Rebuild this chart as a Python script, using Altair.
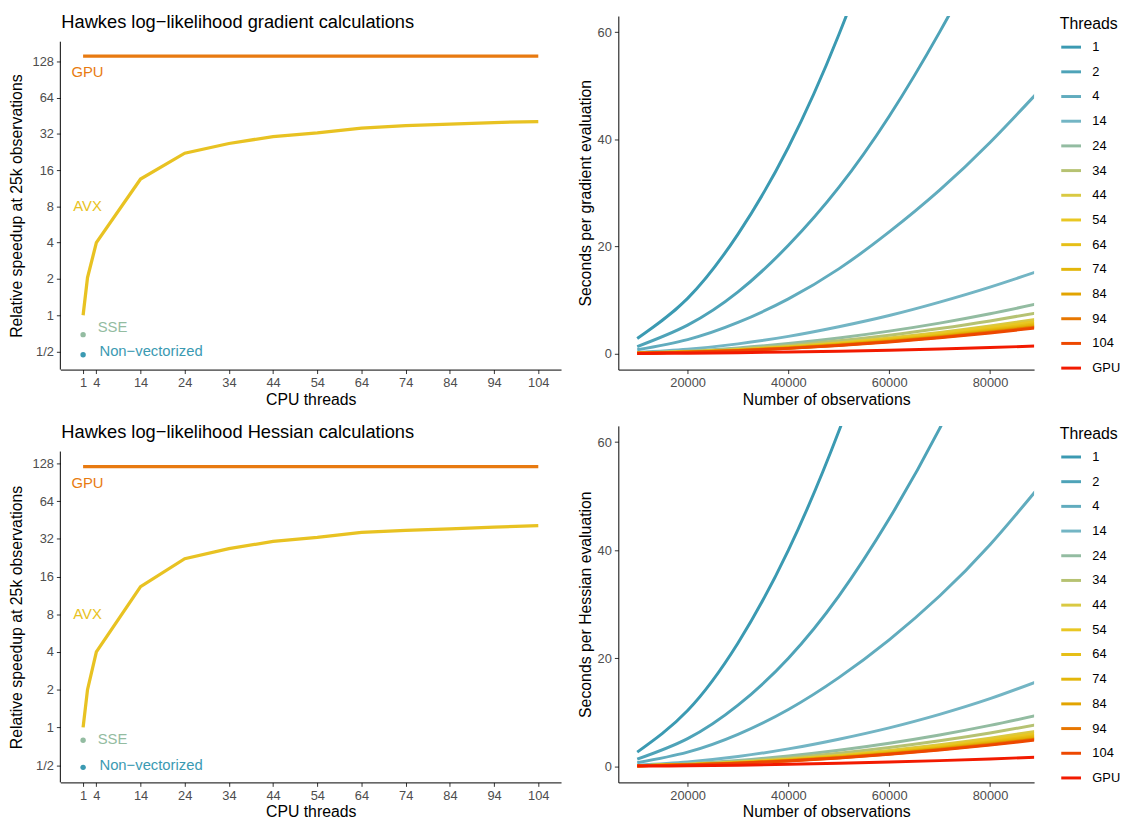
import math
import altair as alt
import pandas as pd

FONT = "Liberation Sans"

# ---------------- Left panels: relative speedup ----------------
cpu_axis_ticks = [1, 4, 14, 24, 34, 44, 54, 64, 74, 84, 94, 104]
speed_ticks = [0.5, 1, 2, 4, 8, 16, 32, 64, 128]

avx_threads = [1, 2, 4, 14, 24, 34, 44, 54, 64, 74, 84, 94, 104]
avx_grad = [1.0, 2.05, 4.0, 13.5, 22.1, 26.6, 30.4, 32.6, 35.7, 37.5, 38.5, 39.7, 40.5]
avx_hess = [1.0, 2.0, 4.0, 13.3, 22.2, 26.7, 30.5, 32.8, 36.0, 37.3, 38.4, 39.6, 40.8]

gpu_threads = [1, 104]
gpu_grad = [141, 141]
gpu_hess = [120.5, 120.5]

sse_grad, nonvec_grad = 0.69, 0.47
sse_hess, nonvec_hess = 0.79, 0.48

# label positions (speedup values)
gpu_label_grad, gpu_label_hess = 104, 89.9
avx_label_y = 8
sse_label_y, nonvec_label_y = 0.8, 0.5

panel_titles = ["Hawkes log\u2212likelihood gradient calculations",
                "Hawkes log\u2212likelihood Hessian calculations"]

C_GPU = "#E87A10"
C_AVX = "#E8C222"
C_SSE = "#93BCA1"
C_NV = "#3B9AB2"

# ---------------- Right panels: seconds per evaluation ----------------
n_obs = [10000, 20000, 30000, 40000, 50000, 60000, 70000, 80000, 90000]
thread_labels = ["1", "2", "4", "14", "24", "34", "44", "54", "64", "74", "84", "94", "104", "GPU"]
thread_colors = ["#3B9AB2", "#4EA3B8", "#61ACBE", "#73B5C4", "#93BCA1", "#B6C272", "#D9C942",
                 "#E9C723", "#E6BF17", "#E3B60A", "#E2A400", "#E77600", "#ED4800", "#F21A00"]

grad_times = {
    "1":   [2.8, 10.3, 22.3, 38.5, 59.5, 85.5, 116.5, 152.5, 193.5],
    "2":   [1.3, 5.3, 11.5, 20.2, 31.0, 44.3, 60.0, 78.0, 99.0],
    "4":   [0.7, 2.6, 5.8, 10.2, 15.8, 22.7, 30.5, 39.4, 49.3],
    "14":  [0.2, 0.8, 1.8, 3.2, 5.0, 7.1, 9.6, 12.4, 15.5],
    "24":  [0.12, 0.46, 1.04, 1.86, 2.9, 4.18, 5.68, 7.42, 9.4],
    "34":  [0.1, 0.38, 0.86, 1.52, 2.38, 3.42, 4.66, 6.08, 7.7],
    "44":  [0.08, 0.32, 0.72, 1.28, 2.0, 2.88, 3.92, 5.12, 6.48],
    "54":  [0.08, 0.3, 0.68, 1.2, 1.88, 2.7, 3.68, 4.8, 6.08],
    "64":  [0.07, 0.28, 0.63, 1.12, 1.75, 2.52, 3.43, 4.48, 5.67],
    "74":  [0.07, 0.27, 0.6, 1.07, 1.68, 2.41, 3.28, 4.29, 5.43],
    "84":  [0.06, 0.26, 0.58, 1.02, 1.6, 2.3, 3.14, 4.1, 5.18],
    "94":  [0.06, 0.25, 0.56, 0.99, 1.55, 2.23, 3.04, 3.97, 5.02],
    "104": [0.06, 0.24, 0.54, 0.96, 1.5, 2.16, 2.94, 3.84, 4.86],
    "GPU": [0.02, 0.07, 0.16, 0.28, 0.44, 0.63, 0.86, 1.12, 1.42],
}

hess_times = {
    "1":   [2.6, 10.3, 22.8, 40.0, 62.0, 88.8, 120.5, 157.0, 198.5],
    "2":   [1.3, 5.1, 11.3, 20.0, 31.5, 45.8, 62.5, 82.0, 104.0],
    "4":   [0.65, 2.6, 5.9, 10.5, 16.4, 23.4, 31.5, 41.0, 52.0],
    "14":  [0.2, 0.8, 1.8, 3.2, 5.0, 7.1, 9.6, 12.5, 15.9],
    "24":  [0.12, 0.47, 1.06, 1.89, 2.95, 4.25, 5.78, 7.55, 9.56],
    "34":  [0.1, 0.38, 0.86, 1.54, 2.4, 3.46, 4.7, 6.14, 7.78],
    "44":  [0.08, 0.32, 0.73, 1.3, 2.03, 2.92, 3.97, 5.18, 6.56],
    "54":  [0.08, 0.3, 0.68, 1.22, 1.9, 2.74, 3.72, 4.86, 6.16],
    "64":  [0.07, 0.28, 0.64, 1.14, 1.78, 2.56, 3.48, 4.54, 5.75],
    "74":  [0.07, 0.27, 0.61, 1.09, 1.7, 2.45, 3.33, 4.35, 5.51],
    "84":  [0.07, 0.26, 0.59, 1.04, 1.63, 2.34, 3.19, 4.16, 5.27],
    "94":  [0.06, 0.25, 0.57, 1.01, 1.58, 2.27, 3.09, 4.03, 5.1],
    "104": [0.06, 0.24, 0.55, 0.98, 1.53, 2.2, 2.99, 3.9, 4.94],
    "GPU": [0.02, 0.08, 0.19, 0.34, 0.53, 0.76, 1.03, 1.34, 1.7],
}

LEFT_W, RIGHT_W = 507, 421
TITLE_BAND = 26  # space for the panel title above the left plot area
X_LO, X_HI = -4.15, 109.15


def left_chart(title, avx, gpu, sse, nv, gpu_lab, ydom, h_plot):
    lo, hi = ydom
    h_full = h_plot + TITLE_BAND
    # extend the log domain upward so the title sits above the drawn axis line
    top = hi * 2 ** (TITLE_BAND / h_plot * math.log2(hi / lo))
    xs = alt.Scale(domain=[X_LO, X_HI], nice=False, zero=False)
    ys = alt.Scale(type="log", base=2, domain=[lo, top], nice=False)
    xax = alt.Axis(values=cpu_axis_ticks, title="CPU threads", titlePadding=2)
    yax = alt.Axis(values=speed_ticks, title="Relative speedup at 25k observations", domain=False,
                   labelExpr="datum.value < 1 ? '1/2' : format(datum.value, 'd')", titlePadding=8,
                   titleY=TITLE_BAND + h_plot / 2)

    def enc(ch):
        return ch.encode(
            x=alt.X("t:Q", scale=xs, axis=xax),
            y=alt.Y("s:Q", scale=ys, axis=yax),
        )

    avx_df = pd.DataFrame({"t": avx_threads, "s": avx})
    gpu_df = pd.DataFrame({"t": gpu_threads, "s": gpu})
    pts_df = pd.DataFrame({"t": [1, 1], "s": [sse, nv], "c": [C_SSE, C_NV]})
    mid_txt = pd.DataFrame({"t": [2, 2], "s": [gpu_lab, avx_label_y], "lab": ["GPU", "AVX"],
                            "c": [C_GPU, C_AVX]})
    left_txt = pd.DataFrame({"t": [4.3, 4.7], "s": [sse_label_y, nonvec_label_y],
                             "lab": ["SSE", "Non\u2212vectorized"], "c": [C_SSE, C_NV]})
    axis_df = pd.DataFrame({"t": [X_LO], "s": [lo], "s2": [hi]})
    title_df = pd.DataFrame({"t": [X_LO], "s": [top], "lab": [title]})

    axis_line = alt.Chart(axis_df).mark_rule(color="black", strokeWidth=1).encode(
        x=alt.X("t:Q", scale=xs, axis=xax),
        y=alt.Y("s:Q", scale=ys, axis=yax),
        y2="s2:Q",
    )
    l1 = enc(alt.Chart(avx_df).mark_line(color=C_AVX, strokeWidth=3.3))
    l2 = enc(alt.Chart(gpu_df).mark_line(color=C_GPU, strokeWidth=3.3))
    p = enc(alt.Chart(pts_df).mark_circle(size=30, opacity=1)).encode(
        color=alt.Color("c:N", scale=None))
    t1 = enc(alt.Chart(mid_txt).mark_text(fontSize=15, align="center", baseline="middle", font=FONT)).encode(
        text="lab:N", color=alt.Color("c:N", scale=None))
    t2 = enc(alt.Chart(left_txt).mark_text(fontSize=15, align="left", baseline="middle", font=FONT)).encode(
        text="lab:N", color=alt.Color("c:N", scale=None))
    ttl = enc(alt.Chart(title_df).mark_text(fontSize=18.5, align="left", baseline="alphabetic",
                                            dy=12, dx=1, font=FONT, color="black")).encode(text="lab:N")
    return alt.layer(axis_line, l1, l2, p, t1, t2, ttl).properties(width=LEFT_W, height=h_full)


def right_chart(times, ytitle, h):
    rows = []
    for lab in thread_labels:
        for n, v in zip(n_obs, times[lab]):
            rows.append({"n": n, "sec": v, "Threads": lab})
    df = pd.DataFrame(rows)
    return alt.Chart(df).mark_line(strokeWidth=3, clip=True, interpolate="natural").encode(
        x=alt.X("n:Q", scale=alt.Scale(domain=[6250, 88750], nice=False, zero=False),
                axis=alt.Axis(values=[20000, 40000, 60000, 80000], format="d",
                              title="Number of observations", titlePadding=2)),
        y=alt.Y("sec:Q", scale=alt.Scale(domain=[-3, 63], nice=False, zero=False),
                axis=alt.Axis(values=[0, 20, 40, 60], title=ytitle, titlePadding=4)),
        color=alt.Color("Threads:N", sort=thread_labels,
                        scale=alt.Scale(domain=thread_labels, range=thread_colors),
                        legend=alt.Legend(title="Threads", symbolType="stroke", symbolSize=400,
                                          symbolStrokeWidth=3, rowPadding=6, padding=0,
                                          orient="right", offset=26,
                                          labelOffset=10, titlePadding=4)),
    ).properties(width=RIGHT_W, height=h)


def row(left, right):
    return alt.hconcat(left, right, spacing=16).resolve_scale(
        x="independent", y="independent", color="independent")


row1 = row(
    left_chart(panel_titles[0], avx_grad, gpu_grad,
               sse_grad, nonvec_grad, gpu_label_grad, [0.354, 186], 332),
    right_chart(grad_times, "Seconds per gradient evaluation", 358),
)

row2 = row(
    left_chart(panel_titles[1], avx_hess, gpu_hess,
               sse_hess, nonvec_hess, gpu_label_hess, [0.364, 159], 335),
    right_chart(hess_times, "Seconds per Hessian evaluation", 361),
)

chart = alt.vconcat(row1, row2, spacing=16).resolve_scale(
    x="independent", y="independent", color="independent"
).properties(padding=0).configure(font=FONT).configure_view(stroke=None).configure_axis(
    grid=False, domainColor="black", domainWidth=1, tickColor="#333333", tickSize=4,
    labelColor="#4D4D4D", labelFontSize=13, labelPadding=3, labelFont=FONT,
    titleFontSize=16, titleFontWeight="normal", titleColor="black", titleFont=FONT,
).configure_legend(
    titleFontSize=16, titleFontWeight="normal", titleColor="black", titleFont=FONT,
    labelFontSize=13, labelColor="black", labelFont=FONT,
)

chart.save("out.html", embed_options={"renderer": "svg", "actions": False})
